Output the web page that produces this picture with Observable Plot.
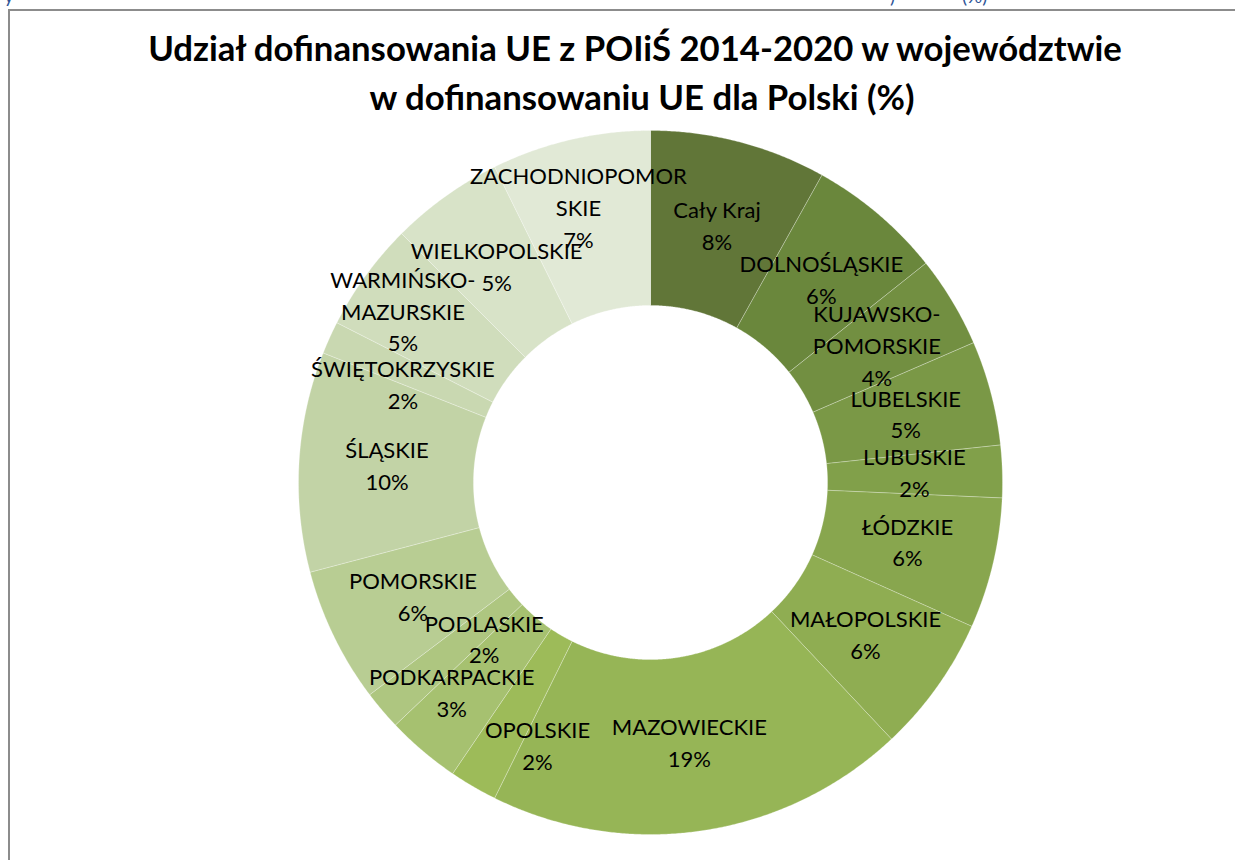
<!DOCTYPE html>
<html>
<head>
<meta charset="utf-8">
<script src="https://cdn.jsdelivr.net/npm/d3@7"></script>
<script src="https://cdn.jsdelivr.net/npm/@observablehq/plot@0.6"></script>
<style>
  html, body { margin: 0; padding: 0; background: #fff; overflow: hidden; }
  body { width: 1235px; height: 860px; position: relative; font-family: Lato, "Open Sans", sans-serif; }
  #frame { position: absolute; left: 8px; top: 9px; width: 1300px; height: 900px;
           border-left: 2px solid #8c8c8c; border-top: 2px solid #8c8c8c; }
  #clip { position: absolute; left: 0; top: 0; width: 1235px; height: 8px; overflow: hidden; }
  #clip span { position: absolute; top: -16px; color: #2f5597; font-size: 19px; white-space: nowrap; }
  #title { position: relative; height: 122px; text-align: center; font-weight: 700; color: #000;
           font-family: Lato, sans-serif; }
  #title div { position: absolute; left: 0; right: 0; text-align: center; white-space: nowrap; }
  #chart { position: relative; }
</style>
</head>
<body>
<div id="clip"><span style="left:4px">y</span><span style="left:890px">)</span><span style="left:962px">(%)</span></div>
<div id="frame"></div>
<div id="title">
  <div id="t1" style="top:27px; margin-left:35px"><span>Udział dofinansowania UE z POIiŚ 2014-2020 w województwie</span></div>
  <div id="t2" style="top:76px; margin-left:49px"><span>w dofinansowaniu UE dla Polski (%)</span></div>
</div>
<div id="chart"></div>
<script>
// ---- data ----
const categories = [
  "Cały Kraj", "DOLNOŚLĄSKIE", "KUJAWSKO-POMORSKIE", "LUBELSKIE", "LUBUSKIE",
  "ŁÓDZKIE", "MAŁOPOLSKIE", "MAZOWIECKIE", "OPOLSKIE", "PODKARPACKIE",
  "PODLASKIE", "POMORSKIE", "ŚLĄSKIE", "ŚWIĘTOKRZYSKIE", "WARMIŃSKO-MAZURSKIE",
  "WIELKOPOLSKIE", "ZACHODNIOPOMORSKIE"
];
const shares = [8.1, 6.2, 4.2, 4.8, 2.4, 6.0, 6.3, 19.3, 2.2, 3.4, 1.8, 6.2, 10.1, 1.5, 5.0, 5.2, 7.3];

// ---- styles ----
const palette = [
  "#617638", "#6a873c", "#728f41", "#7a9846", "#81a04a", "#88a64e", "#8fad52", "#96b556",
  "#9dbb59", "#a6c170", "#aec680", "#b8cd93", "#c2d3a6", "#c9d8b1", "#d0ddbc", "#d8e3c8", "#e1e9d6"
];
// label nudges in px (Excel's overlap adjustments)
const nudges = {
  "ZACHODNIOPOMORSKIE": [-12, -17], "WARMIŃSKO-MAZURSKIE": [-34, -15], "ŚWIĘTOKRZYSKIE": [-7, 12],
  "OPOLSKIE": [20, 36], "PODKARPACKIE": [-28, 10], "PODLASKIE": [35, -13]
};

const R = 352, cx = 650, cy = 360;
const inner = 0.503, labelR = 0.75;

const arcs = d3.pie().sort(null).value(d => d)(shares);

const poly = [];
arcs.forEach((a, i) => {
  const name = categories[i];
  const n = Math.max(4, Math.ceil((a.endAngle - a.startAngle) / 0.005));
  for (let k = 0; k <= n; k++) {
    const t = a.startAngle + (a.endAngle - a.startAngle) * k / n;
    poly.push({name, x: Math.sin(t), y: -Math.cos(t)});
  }
  for (let k = n; k >= 0; k--) {
    const t = a.startAngle + (a.endAngle - a.startAngle) * k / n;
    poly.push({name, x: inner * Math.sin(t), y: -inner * Math.cos(t)});
  }
  poly.push({name, x: Math.sin(a.startAngle), y: -Math.cos(a.startAngle)});
});

function wrap(s) {
  if (s.includes("-")) { const p = s.indexOf("-"); return s.slice(0, p + 1) + "\n" + s.slice(p + 1); }
  if (s.length > 14) return s.slice(0, 14) + "\n" + s.slice(14);
  return s;
}

const labels = arcs.map((a, i) => {
  const name = categories[i];
  const m = (a.startAngle + a.endAngle) / 2;
  const [nx, ny] = nudges[name] || [0, 0];
  return {
    name,
    x: labelR * Math.sin(m) + nx / R,
    y: -labelR * Math.cos(m) + ny / R - 3 / R,
    text: wrap(name) + "\n" + Math.round(shares[i]) + "%"
  };
});

const chart = Plot.plot({
  width: 1235,
  height: 738,
  margin: 0,
  x: {domain: [-1, 1], range: [cx - R, cx + R], axis: null},
  y: {domain: [-1, 1], range: [cy - R, cy + R], axis: null},
  color: {domain: categories, range: palette},
  style: {background: "transparent", overflow: "visible"},
  marks: [
    Plot.line(poly, {x: "x", y: "y", z: "name", fill: "name", stroke: "#ffffff",
      strokeWidth: 0.6, strokeOpacity: 0.45, curve: "linear"}),
    Plot.text(labels, {x: "x", y: "y", text: "text", fill: "#000", fontSize: 22,
      lineHeight: 1.45, fontFamily: "Lato, sans-serif", textAnchor: "middle"})
  ]
});
document.getElementById("chart").appendChild(chart);

// fit title to reference width
const t1 = document.querySelector("#t1 span");
const t2 = document.querySelector("#t2 span");
let fs = 30;
t1.parentNode.style.fontSize = fs + "px"; t2.parentNode.style.fontSize = fs + "px";
const w = t1.getBoundingClientRect().width;
fs = fs * 974 / w;
t1.parentNode.style.fontSize = fs + "px"; t2.parentNode.style.fontSize = fs + "px";
</script>
</body>
</html>
